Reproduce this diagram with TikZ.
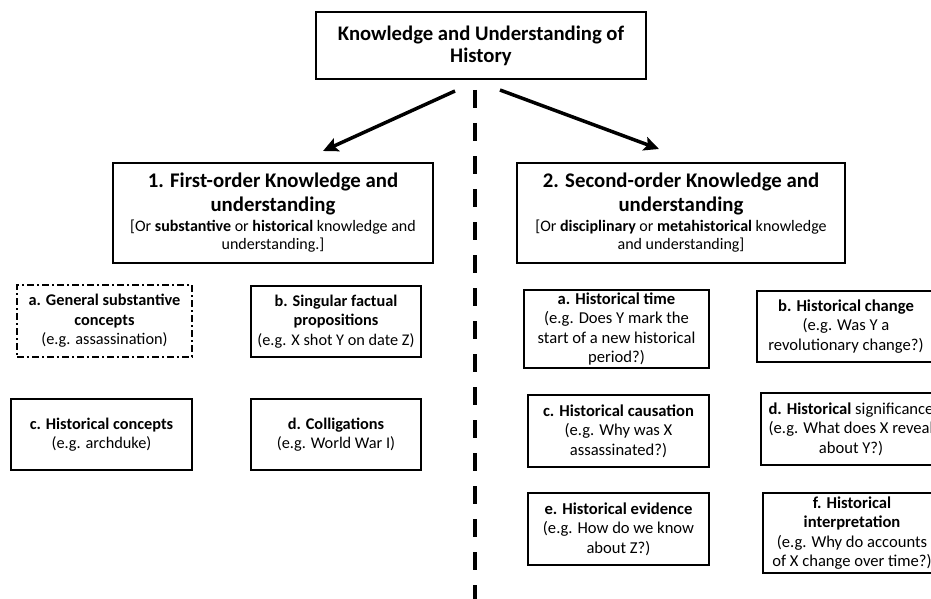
\documentclass[tikz,border=0pt]{standalone}
\usepackage{fontspec}
\setmainfont{Carlito}
\usetikzlibrary{arrows.meta}
\newcommand{\bigtitle}{\fontsize{20.8}{24}\selectfont\bfseries}
\tikzset{
  bx/.style={draw, line width=1.6pt, align=center, inner sep=0pt,
    font=\fontsize{16.3}{19.5}\selectfont},
  rbx/.style={bx, font=\fontsize{16.6}{19.5}\selectfont},
  bigbx/.style={bx, font=\fontsize{16}{18}\selectfont},
  dashdotbox/.style={bx, dash pattern=on 7pt off 3pt on 2pt off 3pt},
  arr/.style={line width=3.5pt, -{Stealth[length=15pt,width=14pt,inset=3pt]}},
  divider/.style={line width=4.5pt, dash pattern=on 18pt off 15pt}
}
\begin{document}
\begin{tikzpicture}[x=1pt,y=-1pt]
\useasboundingbox (0,0) rectangle (931,599);
\fill[white] (0,0) rectangle (931,599);
\clip (0,0) rectangle (931,599);

% top
\node[bx, minimum width=330pt, minimum height=67pt,
  font=\fontsize{20.7}{22}\selectfont\bfseries] (top) at (481,45.5)
  {Knowledge and Understanding of\\History};

% divider
\coordinate (dtop) at (475,90);
\coordinate (dbot) at (475,605);
\draw[divider] (dtop) -- (dbot);

% first-order
\node[bigbx, minimum width=320pt, minimum height=100pt] (first) at (273,213)
  {{\bigtitle 1. First-order Knowledge and}\\[5pt]
   {\bigtitle understanding}\\[2pt]
   [Or \textbf{substantive} or \textbf{historical} knowledge and\\
   understanding.]};

% second-order
\node[bigbx, minimum width=328pt, minimum height=100pt] (second) at (681,213)
  {{\bigtitle 2. Second-order Knowledge and}\\[5pt]
   {\bigtitle understanding}\\[2pt]
   [Or \textbf{disciplinary} or \textbf{metahistorical} knowledge\\
   and understanding]};

% arrows
\coordinate (lstart) at (455,91);
\coordinate (lend) at (323,151);
\coordinate (rstart) at (500,90);
\coordinate (rend) at (659,149);
\draw[arr] (lstart) -- (lend);
\draw[arr] (rstart) -- (rend);

% first-order sub boxes
\node[dashdotbox, minimum width=175pt, minimum height=72pt] (fa) at (104.5,321)
  {\textbf{a. General substantive}\\\textbf{concepts}\\(e.g. assassination)};
\node[bx, minimum width=170pt, minimum height=71pt] (fb) at (336,321.5)
  {\textbf{b. Singular factual}\\\textbf{propositions}\\(e.g. X shot Y on date Z)};
\node[bx, minimum width=181pt, minimum height=71pt] (fc) at (101.5,434.5)
  {\textbf{c. Historical concepts}\\(e.g. archduke)};
\node[bx, minimum width=170pt, minimum height=71pt] (fd) at (336,434.5)
  {\textbf{d. Colligations}\\(e.g. World War I)};

% second-order sub boxes
\node[rbx, minimum width=185pt, minimum height=78pt] (sa) at (616.5,329)
  {\textbf{a. Historical time}\\(e.g. Does Y mark the\\start of a new historical\\period?)};
\node[rbx, minimum width=178pt, minimum height=71pt] (sb) at (846,326.5)
  {\textbf{b. Historical change}\\(e.g. Was Y a\\revolutionary change?)};
\node[rbx, minimum width=181pt, minimum height=72pt] (sc) at (618.5,431)
  {\textbf{c. Historical causation}\\(e.g. Why was X\\assassinated?)};
\node[rbx, minimum width=180pt, minimum height=72pt] (sd) at (851,429)
  {\textbf{d. Historical} significance\\(e.g. What does X reveal\\about Y?)};
\node[rbx, minimum width=181pt, minimum height=72pt] (se) at (618.5,529)
  {\textbf{e. Historical evidence}\\(e.g. How do we know\\about Z?)};
\node[rbx, minimum width=178pt, minimum height=80pt] (sf) at (852,533)
  {\textbf{f. Historical}\\\textbf{interpretation}\\(e.g. Why do accounts\\of X change over time?)};
\end{tikzpicture}
\end{document}
